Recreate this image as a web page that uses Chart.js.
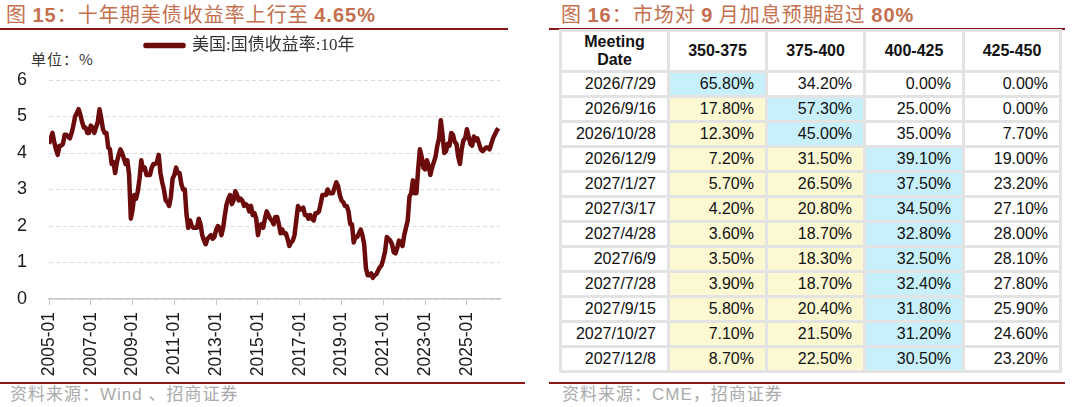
<!DOCTYPE html>
<html>
<head>
<meta charset="utf-8">
<script src="https://cdn.jsdelivr.net/npm/chart.js@4.4.1/dist/chart.umd.min.js"></script>
<style>
    body { margin: 0; width: 1080px; height: 407px; background: #fff; position: relative; overflow: hidden;
           font-family: Arial, "Liberation Sans", "Noto Sans CJK SC", sans-serif; }
    .title { position: absolute; top: 0; line-height: 28px; font-size: 20px; color: #c4704e; letter-spacing: 1px;
             white-space: nowrap; font-family: "Noto Sans CJK SC", sans-serif; }
    .title b { font-family: Arial, "Liberation Sans", sans-serif; }
    .rule { position: absolute; height: 2px; background: #8b1616; }
    .source { position: absolute; top: 385px; line-height: 20px; font-size: 17px; color: #aaaaaa; white-space: nowrap;
              letter-spacing: 1px; font-family: Arial, "Liberation Sans", "Noto Sans CJK SC", sans-serif; }
    .unit { position: absolute; left: 31px; top: 49px; font-size: 15px; line-height: 20px; color: #333;
            letter-spacing: 1px; font-family: "Noto Sans CJK SC", sans-serif; }
    #chartBox { position: absolute; left: 0; top: 0; width: 520px; height: 382px; }
    #rateTable { position: absolute; left: 559px; top: 29px; border-collapse: separate; border-spacing: 3px;
                 background: #e3e3e3; font-size: 16px; color: #111; }
    #rateTable td, #rateTable th { box-sizing: border-box; background: #fff; padding: 0 11px 0 0; height: 22px;
                 line-height: 22px; text-align: right; white-space: nowrap; }
    #rateTable th { height: 38px; line-height: 18px; text-align: center; padding: 0; font-weight: bold; }
</style>
</head>
<body>

<div class="title" style="left:6px">图 <b>15</b>：十年期美债收益率上行至 <b>4.65%</b></div>
<div class="rule" style="left:0; top:28px; width:508px"></div>
<div class="unit">单位：%</div>
<div id="chartBox"><canvas id="yieldChart"></canvas></div>
<div class="rule" style="left:0; top:382px; width:525px"></div>
<div class="source" style="left:10px">资料来源：Wind 、招商证券</div>

<div class="title" style="left:561px">图 <b>16</b>：市场对 <b>9</b> 月加息预期超过 <b>80%</b></div>
<div class="rule" style="left:549px; top:28px; width:516px"></div>
<table id="rateTable"></table>
<div class="rule" style="left:549px; top:382px; width:516px"></div>
<div class="source" style="left:562px">资料来源：CME，招商证券</div>

<script>
// 美国10年期国债收益率，月度，2005-01 起
const startYear = 2005;
const yields = [
    4.25, 4.40, 4.55, 4.30, 4.10, 3.95, 4.20, 4.20, 4.25, 4.50, 4.50, 4.45, // 2005
    4.40, 4.55, 4.75, 5.00, 5.10, 5.20, 5.05, 4.85, 4.70, 4.70, 4.55, 4.55, // 2006
    4.75, 4.70, 4.55, 4.70, 4.85, 5.20, 4.95, 4.65, 4.55, 4.55, 4.15, 4.10, // 2007
    3.70, 3.75, 3.45, 3.75, 3.95, 4.10, 4.00, 3.85, 3.70, 3.80, 3.40, 2.20, // 2008
    2.45, 2.85, 2.75, 2.95, 3.30, 3.80, 3.55, 3.60, 3.40, 3.40, 3.40, 3.60, // 2009
    3.70, 3.70, 3.75, 3.95, 3.45, 3.20, 3.00, 2.70, 2.65, 2.55, 2.80, 3.30, // 2010
    3.40, 3.60, 3.45, 3.45, 3.15, 3.00, 3.00, 2.30, 1.95, 2.15, 2.00, 1.95, // 2011
    1.95, 1.95, 2.20, 2.05, 1.75, 1.60, 1.50, 1.65, 1.70, 1.75, 1.65, 1.70, // 2012
    1.90, 2.00, 1.95, 1.75, 1.95, 2.30, 2.60, 2.75, 2.85, 2.60, 2.70, 2.95, // 2013
    2.85, 2.70, 2.75, 2.70, 2.55, 2.60, 2.55, 2.40, 2.55, 2.30, 2.35, 2.20, // 2014
    1.75, 2.00, 2.05, 1.95, 2.20, 2.40, 2.30, 2.20, 2.15, 2.05, 2.25, 2.25, // 2015
    2.05, 1.80, 1.90, 1.80, 1.80, 1.65, 1.45, 1.55, 1.60, 1.75, 2.15, 2.55, // 2016
    2.45, 2.45, 2.50, 2.30, 2.30, 2.20, 2.30, 2.20, 2.15, 2.35, 2.35, 2.40, // 2017
    2.60, 2.85, 2.85, 2.85, 3.00, 2.90, 2.90, 2.90, 3.05, 3.20, 3.10, 2.85, // 2018
    2.70, 2.65, 2.55, 2.55, 2.40, 2.05, 2.05, 1.55, 1.70, 1.70, 1.80, 1.90, // 2019
    1.75, 1.50, 0.85, 0.65, 0.65, 0.70, 0.58, 0.65, 0.68, 0.78, 0.87, 0.93, // 2020
    1.10, 1.30, 1.70, 1.65, 1.60, 1.50, 1.28, 1.25, 1.40, 1.60, 1.55, 1.45, // 2021
    1.75, 1.95, 2.15, 2.80, 2.90, 3.25, 2.90, 2.90, 3.55, 4.10, 3.90, 3.60, // 2022
    3.55, 3.80, 3.65, 3.40, 3.60, 3.75, 3.90, 4.20, 4.40, 4.90, 4.50, 4.00, // 2023
    4.05, 4.25, 4.20, 4.55, 4.50, 4.30, 4.25, 3.90, 3.70, 4.10, 4.35, 4.40, // 2024
    4.65, 4.45, 4.25, 4.20, 4.45, 4.35, 4.40, 4.25, 4.10, 4.05, 4.10, 4.15, // 2025
    4.15, 4.10, 4.25, 4.40, 4.50, 4.60, 4.68                                // 2026
];
const xTickLabels = ['2005-01', '2007-01', '2009-01', '2011-01', '2013-01', '2015-01',
                     '2017-01', '2019-01', '2021-01', '2023-01', '2025-01'];
const yTicks = [0, 1, 2, 3, 4, 5, 6];

// 加息概率表
const meetingDates = ['2026/7/29', '2026/9/16', '2026/10/28', '2026/12/9', '2027/1/27', '2027/3/17',
                      '2027/4/28', '2027/6/9', '2027/7/28', '2027/9/15', '2027/10/27', '2027/12/8'];
const rangeLabels = ['350-375', '375-400', '400-425', '425-450'];
const prob350_375 = [65.8, 17.8, 12.3, 7.2, 5.7, 4.2, 3.6, 3.5, 3.9, 5.8, 7.1, 8.7];
const prob375_400 = [34.2, 57.3, 45.0, 31.5, 26.5, 20.8, 18.7, 18.3, 18.7, 20.4, 21.5, 22.5];
const prob400_425 = [0.0, 25.0, 35.0, 39.1, 37.5, 34.5, 32.8, 32.5, 32.4, 31.8, 31.2, 30.5];
const prob425_450 = [0.0, 0.0, 7.7, 19.0, 23.2, 27.1, 28.0, 28.1, 27.8, 25.9, 24.6, 23.2];

const lineColor = '#6b0b0b';

// 图例和图之间留空
const legendMargin = {
    id: 'legendMargin',
    beforeInit(chart) {
        const fitValue = chart.legend.fit;
        chart.legend.fit = function fit() {
            fitValue.bind(chart.legend)();
            this.height += 16;
        };
    }
};

const ctx = document.getElementById('yieldChart').getContext('2d');
new Chart(ctx, {
    type: 'line',
    data: {
        datasets: [{
            label: '美国:国债收益率:10年',
            data: yields.map((v, i) => ({ x: i, y: v })),
            borderColor: lineColor,
            backgroundColor: lineColor,
            borderWidth: 4.5,
            borderJoinStyle: 'round',
            pointRadius: 0,
            tension: 0
        }]
    },
    options: {
        responsive: true,
        maintainAspectRatio: false,
        animation: false,
        layout: { padding: { top: 27, right: 20, left: 0, bottom: 0 } },
        scales: {
            x: {
                type: 'linear',
                min: 0,
                max: yields.length,
                afterFit(scale) { scale.height = 83; },
                grid: { drawOnChartArea: false, drawTicks: true, tickLength: 6, color: '#c8c8c8' },
                border: { display: true, color: '#c8c8c8', width: 1.5 },
                ticks: {
                    stepSize: 24,
                    includeBounds: false,
                    autoSkip: false,
                    minRotation: 90,
                    maxRotation: 90,
                    padding: 7,
                    color: '#1a1a1a',
                    font: { size: 17.5, family: 'Arial, "Liberation Sans"' },
                    callback: (v) => xTickLabels[v / 24] || ''
                }
            },
            y: {
                min: yTicks[0],
                max: yTicks[yTicks.length - 1],
                afterFit(scale) { scale.width = 49; },
                grid: { color: '#dcdcdc', drawTicks: false, lineWidth: 1 },
                border: { display: false, dash: [4, 3] },
                ticks: {
                    stepSize: 1,
                    padding: 22,
                    color: '#1a1a1a',
                    font: { size: 18, family: 'Arial, "Liberation Sans"' }
                }
            }
        },
        plugins: {
            legend: {
                position: 'top',
                labels: {
                    boxWidth: 38,
                    boxHeight: 1,
                    padding: 10,
                    color: '#333',
                    font: { size: 17, family: '"Liberation Serif", "Noto Sans CJK SC"' }
                }
            },
            tooltip: { enabled: false }
        }
    },
    plugins: [legendMargin]
});

// 表格
const columns = [prob350_375, prob375_400, prob400_425, prob425_450];
const table = document.getElementById('rateTable');
const colWidths = [105, 95, 95, 96, 94];

let html = '<tr><th style="width:' + colWidths[0] + 'px">Meeting<br>Date</th>';
rangeLabels.forEach((label, j) => {
    html += '<th style="width:' + colWidths[j + 1] + 'px">' + label + '</th>';
});
html += '</tr>';

meetingDates.forEach((date, i) => {
    const row = columns.map(col => col[i]);
    const maxIdx = row.indexOf(Math.max(...row));
    html += '<tr><td>' + date + '</td>';
    row.forEach((v, j) => {
        let bg = '#fff';
        if (j === maxIdx) bg = '#c8f0fa';       // 概率最高
        else if (j < maxIdx) bg = '#fbf8d2';    // 低于最高区间
        html += '<td style="background:' + bg + '">' + v.toFixed(2) + '%</td>';
    });
    html += '</tr>';
});
table.innerHTML = html;
</script>
</body>
</html>
